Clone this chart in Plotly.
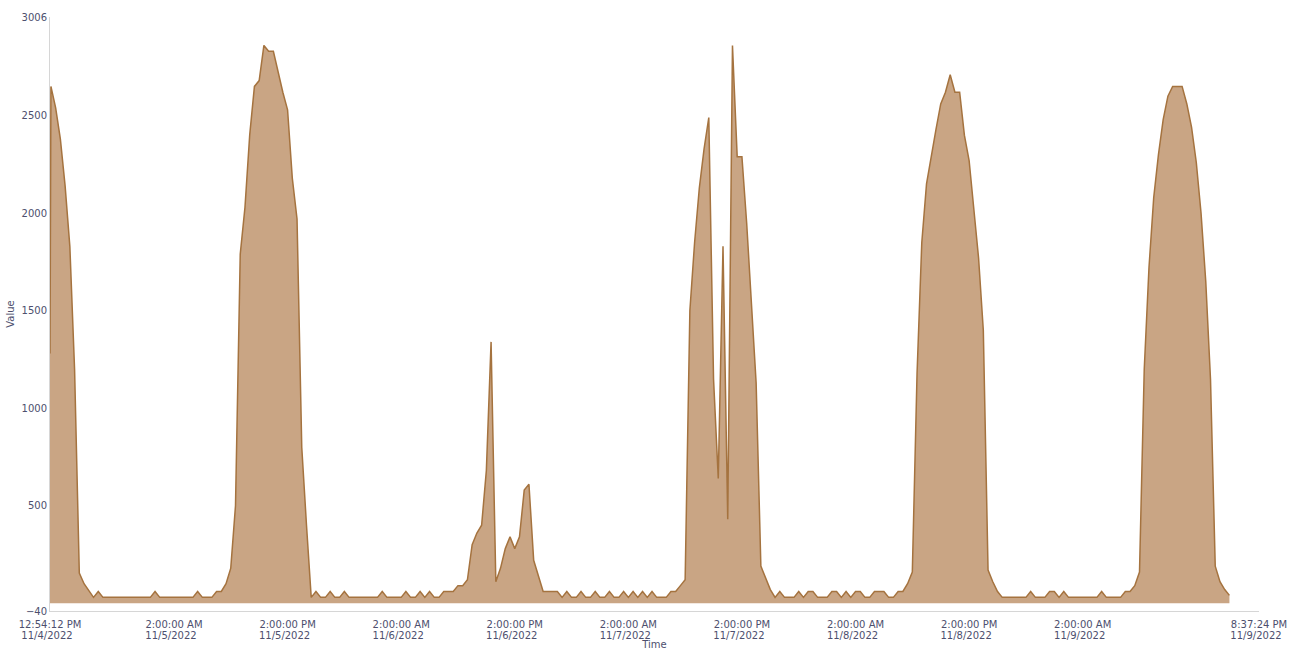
import pandas as pd
import plotly.graph_objects as go

# Half-hourly readings; the series opens with a partial bucket at 12:54:12 PM
first_stamp = "2022-11-04 12:54:12"
grid_start = "2022-11-04 13:00:00"

nov4 = [1280,
        2650, 2540, 2380, 2140, 1830, 1200, 155, 100, 65, 30, 60, 30,
        30, 30, 30, 30, 30, 30, 30, 30, 30, 30]
nov5 = [60, 30, 30, 30, 30, 30, 30, 30, 30, 60, 30, 30,
        30, 60, 60, 100, 180, 500, 1790, 2030, 2400, 2650, 2680, 2860,
        2830, 2830, 2720, 2620, 2530, 2180, 1970, 800, 400, 30, 60, 30,
        30, 60, 30, 30, 60, 30, 30, 30, 30, 30, 30, 30]
nov6 = [60, 30, 30, 30, 30, 60, 30, 30, 60, 30, 60, 30,
        30, 60, 60, 60, 90, 90, 120, 300, 360, 400, 680, 1340,
        110, 180, 280, 340, 280, 340, 580, 610, 220, 140, 60, 60,
        60, 60, 30, 60, 30, 30, 60, 30, 30, 60, 30, 30]
nov7 = [60, 30, 30, 60, 30, 60, 30, 60, 30, 60, 30, 30,
        30, 60, 60, 90, 120, 1500, 1850, 2130, 2330, 2490, 1150, 640,
        1830, 430, 2860, 2290, 2290, 1950, 1550, 1130, 190, 130, 70, 30,
        60, 30, 30, 30, 60, 30, 60, 60, 30, 30, 30, 60]
nov8 = [60, 30, 60, 30, 60, 60, 30, 30, 60, 60, 60, 30,
        30, 60, 60, 100, 160, 1180, 1850, 2150, 2300, 2430, 2560, 2620,
        2710, 2620, 2620, 2400, 2270, 2020, 1770, 1400, 170, 110, 60, 30,
        30, 30, 30, 30, 30, 60, 30, 30, 30, 60, 60, 30]
nov9 = [60, 30, 30, 30, 30, 30, 30, 30, 60, 30, 30, 30,
        30, 60, 60, 90, 160, 1200, 1720, 2080, 2300, 2480, 2600, 2650,
        2650, 2650, 2560, 2440, 2260, 2000, 1650, 1150, 190, 110, 70, 40]

values = nov4 + nov5 + nov6 + nov7 + nov8 + nov9
times = [pd.Timestamp(first_stamp)] + list(
    pd.date_range(grid_start, periods=len(values) - 1, freq="30min"))

# Axis extent and labelled ticks
x_start = "2022-11-04 12:54:12"
x_end = "2022-11-09 20:37:24"
tick_stamps = [x_start, "2022-11-05 02:00", "2022-11-05 14:00", "2022-11-06 02:00",
               "2022-11-06 14:00", "2022-11-07 02:00", "2022-11-07 14:00",
               "2022-11-08 02:00", "2022-11-08 14:00", "2022-11-09 02:00", x_end]
tick_times = ["12:54:12 PM", "2:00:00 AM", "2:00:00 PM", "2:00:00 AM", "2:00:00 PM",
              "2:00:00 AM", "2:00:00 PM", "2:00:00 AM", "2:00:00 PM", "2:00:00 AM",
              "8:37:24 PM"]
tick_dates = ["11/4/2022", "11/5/2022", "11/5/2022", "11/6/2022", "11/6/2022",
              "11/7/2022", "11/7/2022", "11/8/2022", "11/8/2022", "11/9/2022",
              "11/9/2022"]
y_ticks = [-40, 500, 1000, 1500, 2000, 2500, 3006]
y_range = [-40, 3006]

text_color = "#4d4f6e"
font_family = "DejaVu Sans, Verdana, sans-serif"

fig = go.Figure()
fig.add_trace(go.Scatter(
    x=times, y=values, mode="lines", fill="tozeroy",
    line=dict(color="#A5733F", width=1.5),
    fillcolor="#C9A584", showlegend=False,
))
# Transparent copy bound to the date-row axis so that axis gets drawn
fig.add_trace(go.Scatter(
    x=times, y=values, mode="lines", xaxis="x2",
    line=dict(width=0), opacity=0, hoverinfo="skip", showlegend=False,
))

fig.update_layout(
    width=1295, height=650,
    margin=dict(l=50, r=36, t=17, b=39, autoexpand=False),
    paper_bgcolor="white", plot_bgcolor="white",
    font=dict(family=font_family, size=10, color=text_color),
    xaxis=dict(
        type="date", range=[x_start, x_end],
        tickmode="array", tickvals=tick_stamps, ticktext=tick_times,
        ticks="", showgrid=False, zeroline=False,
        showline=True, linecolor="#d6d6d6", linewidth=1,
        tickfont=dict(size=10, color=text_color),
        ticklabelstandoff=4,
    ),
    xaxis2=dict(
        type="date", range=[x_start, x_end], overlaying="x", anchor="y",
        side="bottom",
        tickmode="array", tickvals=tick_stamps, ticktext=tick_dates,
        ticks="", showgrid=False, zeroline=False, showline=False,
        tickfont=dict(size=10, color=text_color),
        ticklabelstandoff=17, ticklabelshift=-3,
        title=dict(text="Time", font=dict(size=10, color=text_color), standoff=0),
    ),
    yaxis=dict(
        range=y_range, tickmode="array", tickvals=y_ticks,
        ticks="", showgrid=False, zeroline=False,
        showline=True, linecolor="#d6d6d6", linewidth=1,
        tickfont=dict(size=10, color=text_color),
        title=dict(text="Value", font=dict(size=10, color=text_color), standoff=5),
    ),
)

fig.write_html("out.html")
